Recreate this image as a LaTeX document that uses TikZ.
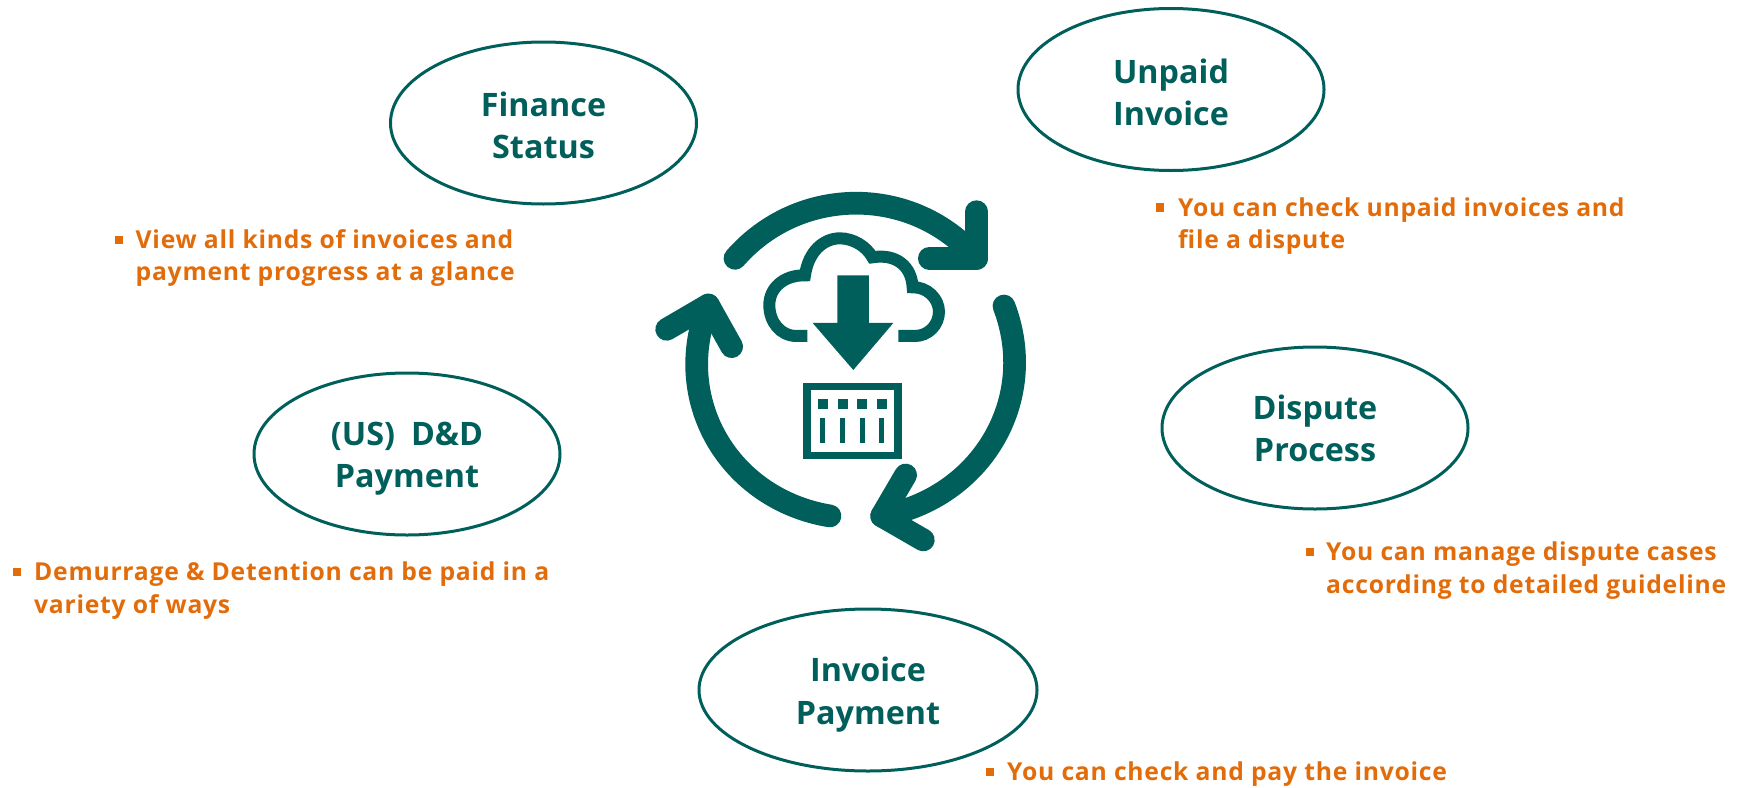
\documentclass[tikz,border=0pt]{standalone}
\usepackage{fontspec}
\setmainfont{Open Sans}[BoldFont=* Bold]
\newfontfamily\headfont{Open Sans}[BoldFont=* Bold]
\newfontfamily\notefont{Open Sans}[BoldFont=* Bold,LetterSpace=3]
\definecolor{teal1}{HTML}{005F5B}
\definecolor{orange1}{HTML}{E36C0A}
\newcommand\twolines[3]{\raisebox{#1}[0pt][0pt]{\makebox[0pt]{\parbox[t]{260pt}{\centering #2\\#3}}}}
\tikzset{
  oval/.style={draw=teal1,line width=3pt,ellipse,minimum width=306pt,minimum height=162pt,inner sep=0pt,
    font=\headfont\bfseries\fontsize{32.3}{42.5}\selectfont,text=teal1},
  note/.style={anchor=west,inner sep=0pt,font=\notefont\bfseries\fontsize{24.7}{32.5}\selectfont,text=orange1,align=left},
  bull/.style={fill=orange1,minimum size=8.5pt,inner sep=0pt},
  loop/.style={draw=teal1,line width=22.7pt,line cap=round,line join=round},
}
\usetikzlibrary{shapes.geometric}
\begin{document}
\begin{tikzpicture}[x=1pt,y=-1pt]
\useasboundingbox (0,0) rectangle (1739,787);
\node[oval] (fin) at (543.5,123) {\twolines{7pt}{Finance}{Status}};
\node[oval] (unp) at (1171,89.5) {\twolines{6.5pt}{Unpaid}{Invoice}};
\node[oval] (dis) at (1315,428) {\twolines{9pt}{Dispute}{Process}};
\node[oval] (usd) at (407,454) {\twolines{9pt}{(US)\hspace{16pt}D\&D}{Payment}};
\node[oval,minimum width=338pt] (inv) at (868,690) {\twolines{8.3pt}{Invoice}{Payment}};
\node[bull] (b1) at (119,240) {};
\node[note] (n1) at (135.5,258) {View all kinds of invoices and\\payment progress at a glance};
\node[bull] (b2) at (1160,207.5) {};
\node[note] (n2) at (1178,226) {You can check unpaid invoices and\\file a dispute};
\node[bull] (b3) at (1310,552) {};
\node[note] (n3) at (1326,570.5) {You can manage dispute cases\\according to detailed guideline};
\node[bull] (b4) at (17,572) {};
\node[note] (n4) at (34,590.5) {Demurrage \& Detention can be paid in a\\variety of ways};
\node[bull] (b5) at (990,772) {};
\node[note] (n5) at (1007,774) {You can check and pay the invoice};
% loop arrows and icons, in zoom coordinates
\begin{scope}[shift={(640,170)},x=0.3333pt,y=-0.3333pt]
\coordinate (tt) at (1010,265);
\coordinate (rt) at (725,1038);
\coordinate (lt) at (205,405);
\draw[loop] (285,265) .. controls (477,45) and (819,44) .. (tt);
\draw[loop] (1010,125) -- (tt) -- (868,265);
\draw[loop] (1092,408) .. controls (1200,690) and (1023,985) .. (rt);
\draw[loop] (797,915) -- (rt) -- (850,1110);
\draw[loop] (570,1038) .. controls (267,988) and (91,690) .. (lt);
\draw[loop] (80,478) -- (lt) -- (275,530);
% cloud
\draw[teal1,line width=12pt] (502,498) -- (470,498) .. controls (420,498) and (388,455) .. (388,405)
  .. controls (388,355) and (430,315) .. (495,316) .. controls (505,245) and (550,205) .. (600,205)
  .. controls (640,205) and (680,230) .. (697,262) .. controls (770,250) and (815,290) .. (818,352)
  .. controls (860,350) and (897,385) .. (897,425) .. controls (897,465) and (865,498) .. (825,498) -- (775,498);
\draw[white,line width=15pt,miter limit=10] (518,459) -- (640,600) -- (760,459) -- cycle;
\fill[teal1] (592,316) -- (687,316) -- (687,459) -- (760,459) -- (640,600) -- (518,459) -- (592,459) -- cycle;
% grid
\fill[teal1] (490,638) rectangle (785,867);
\fill[white] (512,660) rectangle (763,846);
\foreach \xa in {534,594,651,712} \fill[teal1] (\xa,687) rectangle ++(30,30);
\foreach \xa in {540,600,660,717} \fill[teal1] (\xa,744) rectangle ++(15,75);
\end{scope}
\end{tikzpicture}
\end{document}
